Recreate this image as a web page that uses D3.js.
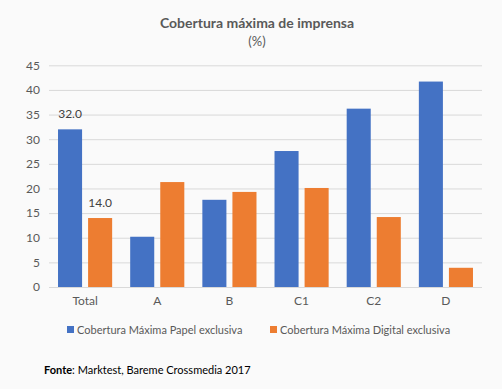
<!DOCTYPE html>
<html><head><meta charset="utf-8">
<script src="https://cdn.jsdelivr.net/npm/d3@7"></script>
<style>body{margin:0;background:#fafafa;}svg{display:block;}</style>
</head><body>
<svg id="c" width="502" height="389"></svg>
<script>
const categories = ["Total", "A", "B", "C1", "C2", "D"];
const seriesNames = ["Cobertura Máxima Papel exclusiva", "Cobertura Máxima Digital exclusiva"];
const papel = [32.0, 10.2, 17.7, 27.6, 36.2, 41.7];
const digital = [14.0, 21.3, 19.3, 20.1, 14.2, 3.9];
const yTicks = [0, 5, 10, 15, 20, 25, 30, 35, 40, 45];
const colors = ["#4472c4", "#ed7d31"];

const svg = d3.select("#c");
const font = "Lato, sans-serif";
svg.append("rect").attr("width", 502).attr("height", 389).attr("fill", "#fafafa");

const x0 = d3.scaleBand().domain(categories).range([49, 482]).paddingInner(0.25).paddingOuter(0.125);
const x1 = d3.scaleBand().domain([0, 1]).range([0, x0.bandwidth()]).paddingInner(0.2);
const y = d3.scaleLinear().domain([0, 45]).range([287, 65.3]);

svg.append("text").attr("x", 257).attr("y", 28).attr("text-anchor", "middle")
  .attr("font-family", font).attr("font-weight", "bold").attr("font-size", 14).attr("fill", "#595959")
  .text("Cobertura máxima de imprensa");
svg.append("text").attr("x", 257).attr("y", 46).attr("text-anchor", "middle")
  .attr("font-family", font).attr("font-size", 13).attr("fill", "#595959").text("(%)");

const yAxis = svg.append("g").attr("transform", "translate(49,0)")
  .call(d3.axisLeft(y).tickValues(yTicks).tickSize(-433).tickPadding(9));
yAxis.select(".domain").remove();
yAxis.selectAll("line").attr("stroke", "#d9d9d9");
yAxis.selectAll("text").attr("font-family", font).attr("font-size", 12).attr("fill", "#595959");

const xAxis = svg.append("g").attr("transform", "translate(0,287)")
  .call(d3.axisBottom(x0).tickSize(0).tickPadding(9));
xAxis.select(".domain").remove();
xAxis.selectAll("text").attr("font-family", font).attr("font-size", 12).attr("fill", "#595959");

const series = [papel, digital];
series.forEach((vals, si) => {
  svg.append("g").selectAll("rect").data(vals).join("rect")
    .attr("x", (d, i) => x0(categories[i]) + x1(si))
    .attr("width", x1.bandwidth())
    .attr("y", d => y(d))
    .attr("height", d => y(0) - y(d))
    .attr("fill", colors[si]);
});
series.forEach((vals, si) => {
  svg.append("text")
    .attr("x", x0(categories[0]) + x1(si) + x1.bandwidth() / 2)
    .attr("y", y(vals[0]) - 11)
    .attr("text-anchor", "middle").attr("font-family", font).attr("font-size", 12).attr("fill", "#404040")
    .text(vals[0].toFixed(1));
});

const legX = [67, 270];
seriesNames.forEach((n, i) => {
  svg.append("rect").attr("x", legX[i]).attr("y", 326).attr("width", 7).attr("height", 7).attr("fill", colors[i]);
  svg.append("text").attr("x", legX[i] + 10).attr("y", 333.5).attr("font-family", font).attr("font-size", 11)
    .attr("fill", "#595959").text(n);
});

const src = svg.append("text").attr("x", 44).attr("y", 374).attr("font-family", font).attr("font-size", 11).attr("fill", "#000");
src.append("tspan").attr("font-weight", "bold").text("Fonte");
src.append("tspan").text(": Marktest, Bareme Crossmedia 2017");
</script>
</body></html>
